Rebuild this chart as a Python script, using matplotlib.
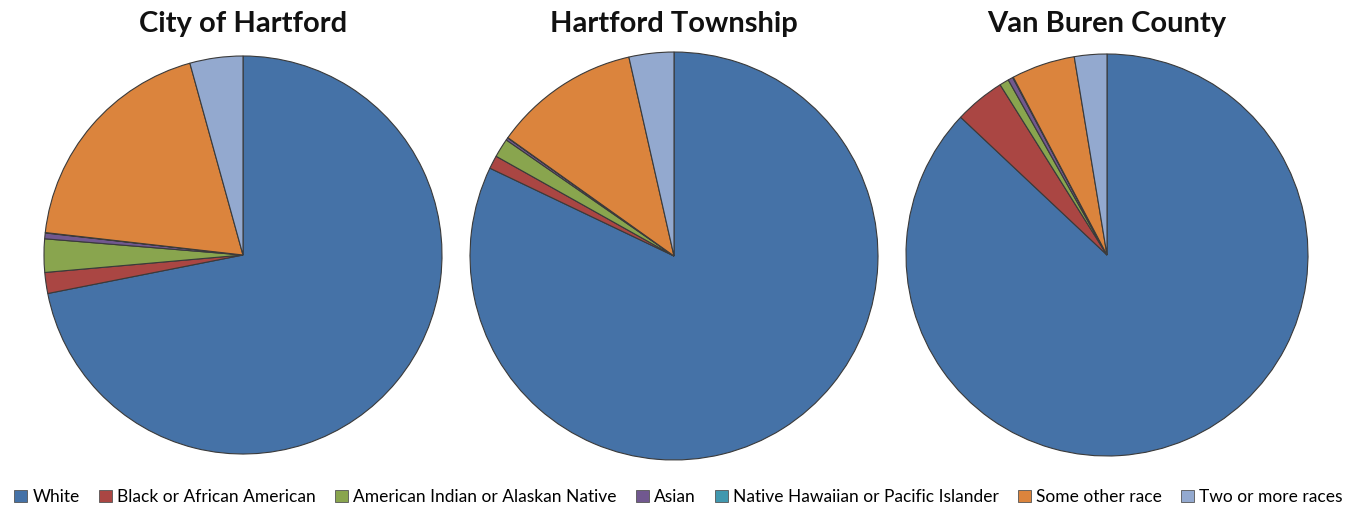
import matplotlib.pyplot as plt
from matplotlib.patches import Patch

plt.rcParams['font.family'] = ['Lato', 'DejaVu Sans']

races = ['White', 'Black or African American', 'American Indian or Alaskan Native',
         'Asian', 'Native Hawaiian or Pacific Islander', 'Some other race',
         'Two or more races']
colors = ['#4572A7', '#AA4643', '#89A54E', '#71588F', '#4198AF', '#DB843D', '#93A9CF']

places = ['City of Hartford', 'Hartford Township', 'Van Buren County']

# percentages
city = [71.9, 1.7, 2.7, 0.47, 0.03, 18.9, 4.3]
township = [82.1, 1.05, 1.5, 0.2, 0.02, 11.6, 3.55]
county = [86.8, 4.05, 0.75, 0.4, 0.05, 5.1, 2.6]
values = [city, township, county]

W, H = 1357, 509
fig = plt.figure(figsize=(W / 100, H / 100), dpi=100)

# pixel centre and radius of each pie
centers = [(243, 255, 200), (674, 256, 205), (1107, 255, 202)]
for (cx, cy, r), name, vals in zip(centers, places, values):
    ax = fig.add_axes([(cx - r) / W, (H - cy - r) / H, 2 * r / W, 2 * r / H])
    ax.pie(vals, colors=colors, startangle=90, counterclock=False,
           wedgeprops={'edgecolor': '#3a3a3a', 'linewidth': 0.8})
    ax.set_xlim(-1.005, 1.005)
    ax.set_ylim(-1.005, 1.005)
    ax.set_aspect('equal')
    ax.axis('off')
    fig.text(cx / W, 1 - 24 / H, name, ha='center', va='center',
             fontsize=21, fontweight='bold', color='#111111')

handles = [Patch(facecolor=c, edgecolor='#555555', linewidth=0.6) for c in colors]
fig.legend(handles, races, loc='center', bbox_to_anchor=(0.5, 1 - 497 / H),
           ncol=7, frameon=False, fontsize=12.5, handlelength=0.75, handleheight=0.75,
           handletextpad=0.3, columnspacing=1.1)

fig.savefig('out.png', dpi=100)
